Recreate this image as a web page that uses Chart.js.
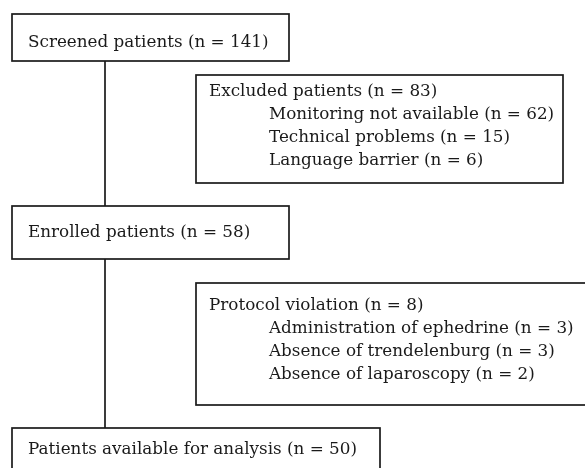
<!DOCTYPE html>
<html>
<head>
<meta charset="utf-8">
<script src="https://cdn.jsdelivr.net/npm/chart.js@4/dist/chart.umd.min.js"></script>
<style>
  html, body { margin: 0; padding: 0; background: #fff; }
  #wrap { width: 585px; height: 468px; }
</style>
</head>
<body>
<div id="wrap"><canvas id="flow" width="585" height="468"></canvas></div>
<script>
// flow stages (main column)
var stages = ['Screened patients', 'Enrolled patients', 'Patients available for analysis'];
var stageN = [141, 58, 50];

// side boxes
var sideTitles = ['Excluded patients', 'Protocol violation'];
var sideN = [83, 8];
var excludedReasons = ['Monitoring not available', 'Technical problems', 'Language barrier'];
var excludedN = [62, 15, 6];
var violationReasons = ['Administration of ephedrine', 'Absence of trendelenburg', 'Absence of laparoscopy'];
var violationN = [3, 3, 2];

// layout, in scale units (x 0..585, y 0..468 top down)
var mainBoxes = [
    {x1: 12, y1: 14, x2: 289, y2: 61, ty: 43},
    {x1: 12, y1: 206, x2: 289, y2: 259, ty: 233},
    {x1: 12, y1: 428, x2: 380, y2: 490, ty: 450}
];
var sideBoxes = [
    {x1: 196, y1: 75, x2: 563, y2: 183, top: 92},
    {x1: 196, y1: 283, x2: 600, y2: 405, top: 306}
];
var spineX = 105;
var lineGap = 23;
var fontFam = '"DejaVu Serif", serif';
var fontSize = 16.8;

function label(t, n){ return t + ' (n = ' + n + ')'; }

var flowPlugin = {
    id: 'flow',
    afterDraw: function(chart){
        var ctx = chart.ctx;
        var sx = chart.scales.x, sy = chart.scales.y;
        var px = function(v){ return sx.getPixelForValue(v); };
        var py = function(v){ return sy.getPixelForValue(v); };
        ctx.save();
        ctx.strokeStyle = '#1a1a1a';
        ctx.lineWidth = 1.7;
        // spine lines
        ctx.beginPath();
        for (var i = 0; i < mainBoxes.length - 1; i++){
            ctx.moveTo(px(spineX), py(mainBoxes[i].y2));
            ctx.lineTo(px(spineX), py(mainBoxes[i+1].y1));
        }
        ctx.stroke();
        ctx.font = fontSize + 'px ' + fontFam;
        ctx.textBaseline = 'middle';
        ctx.textAlign = 'left';
        ctx.fillStyle = '#1a1a1a';
        // main boxes
        mainBoxes.forEach(function(b, i){
            ctx.strokeRect(px(b.x1), py(b.y1), px(b.x2)-px(b.x1), py(b.y2)-py(b.y1));
            ctx.fillText(label(stages[i], stageN[i]), px(b.x1 + 16), py(b.ty));
        });
        // side boxes
        var reasons = [excludedReasons, violationReasons];
        var reasonN = [excludedN, violationN];
        sideBoxes.forEach(function(b, i){
            ctx.strokeRect(px(b.x1), py(b.y1), px(b.x2)-px(b.x1), py(b.y2)-py(b.y1));
            ctx.fillText(label(sideTitles[i], sideN[i]), px(b.x1 + 13), py(b.top));
            for (var j = 0; j < reasons[i].length; j++){
                ctx.fillText(label(reasons[i][j], reasonN[i][j]), px(b.x1 + 73), py(b.top + lineGap * (j + 1)));
            }
        });
        ctx.restore();
    }
};

var chart = new Chart(document.getElementById('flow'), {
    type: 'scatter',
    data: { datasets: [{ data: [], pointRadius: 0 }] },
    options: {
        responsive: false,
        animation: false,
        layout: { padding: 0 },
        plugins: { legend: { display: false }, tooltip: { enabled: false } },
        scales: {
            x: { display: false, min: 0, max: 585 },
            y: { display: false, min: 0, max: 468, reverse: true }
        }
    },
    plugins: [flowPlugin]
});
</script>
</body>
</html>
